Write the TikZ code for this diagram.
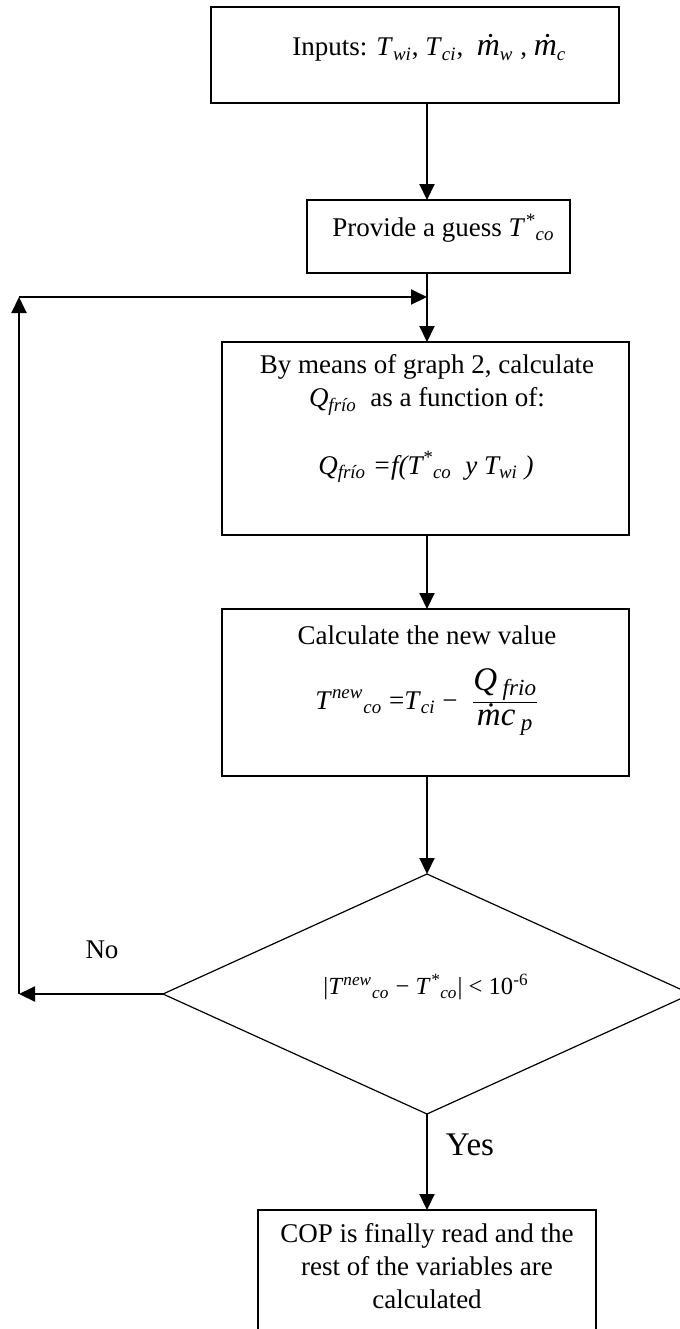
\documentclass[tikz,border=0pt]{standalone}
\usepackage{fontspec}
\setmainfont{Liberation Serif}
\usetikzlibrary{arrows.meta,positioning,shapes.geometric}
\newcommand{\vi}[1]{\textit{#1}}
\newcommand{\isub}[1]{\textsubscript{\textit{#1}}}
\newcommand{\isup}[1]{\textsuperscript{\textit{#1}}}
\newcommand{\mdot}[1]{{\fontsize{16}{18}\selectfont\vi{\.m}}\isub{#1}}
\tikzset{
  flowbox/.style={draw, line width=0.75pt, inner sep=0pt, outer sep=0pt},
  ftxt/.style={font=\fontsize{13.5}{16.5}\selectfont, align=center, inner sep=0pt},
  ytxt/.style={font=\fontsize{16.5}{19}\selectfont, inner sep=0pt},
  farr/.style={-{Triangle[length=8pt,width=7.5pt]}, line width=1pt},
  fdec/.style={diamond, draw, line width=0.6pt, inner sep=0pt, outer sep=0pt,
      minimum width=264pt, minimum height=120pt},
}

\begin{document}
\begin{tikzpicture}[x=0.5pt,y=-0.5pt]
\useasboundingbox (0,0) rectangle (680,1329);
\clip (0,0) rectangle (680,1329);
\node[flowbox, minimum width=204pt, minimum height=48pt] (inp) at (415,55) {};
\node[flowbox, minimum width=131.5pt, minimum height=36.5pt] (guess) at (438.5,236.5) {};
\node[flowbox, minimum width=203.5pt, minimum height=96.5pt] (calc) at (425.5,438.5) {};
\node[flowbox, minimum width=203.5pt, minimum height=83.5pt] (newv) at (425.5,692.5) {};
\node[fdec] (dec) at (427,994) {};
\node[flowbox, minimum width=169pt, minimum height=75pt] (fin) at (427,1285) {};

\node[ftxt, anchor=west] (inpt) at (292,48) {Inputs: \vi{T}\isub{wi}, \vi{T}\isub{ci}, \ \mdot{w} , \mdot{c}};
\node[ftxt, anchor=west] (guesst) at (332,228) {Provide a guess \vi{T}\isup{*}\isub{co}};
\node[ftxt] (calct) at (427,385) {By means of graph 2, calculate\\ \vi{Q}\isub{frío}\ \ as a function of:};
\node[ftxt, font=\fontsize{13.5}{16.5}\selectfont\itshape] (calcf) at (426,467)
  {\vi{Q}\isub{frío} =\vi{f}(\vi{T}\isup{*}\isub{co}\ \ \vi{y} \vi{T}\isub{wi} )};
\node[ftxt] (newvt) at (427,635) {Calculate the new value};
\node[ftxt, anchor=west] (newvf) at (315,702)
  {\vi{T}\isup{new}\isub{co} =\vi{T}\isub{ci} −\enspace
   $\frac{\mbox{\fontsize{16.5}{20}\selectfont\vi{Q}\,\isub{frio}}}{\mbox{\fontsize{16.5}{20}\selectfont\vi{\.mc}\,\isub{p}}}$};
\node[ftxt, font=\fontsize{12.3}{15}\selectfont] (dect) at (426,987) {|\vi{T}\isup{new}\isub{co} − \vi{T}\isup{*}\isub{co}| < 10\textsuperscript{-6}};
\node[ftxt] (fint) at (427,1266) {COP is finally read and the\\ rest of the variables are\\ calculated};
\node[ftxt] (no) at (102,950) {No};
\node[ytxt] (yes) at (470,1145) {Yes};

\coordinate (lowl) at (19,994);
\coordinate (upl) at (19,297);
\coordinate (join) at (427,297);
\draw[farr] (inp.south -| dec.north) -- (guess.north -| dec.north);
\draw[farr] (guess.south -| dec.north) -- (calc.north -| dec.north);
\draw[farr] (calc.south -| dec.north) -- (newv.north -| dec.north);
\draw[farr] (newv.south -| dec.north) -- (dec.north);
\draw[farr] (dec.south) -- (fin.north -| dec.south);
\draw[farr] (dec.west) -- (lowl);
\draw[farr] (lowl) -- (upl);
\draw[farr] (upl) -- (join);
\end{tikzpicture}
\end{document}
